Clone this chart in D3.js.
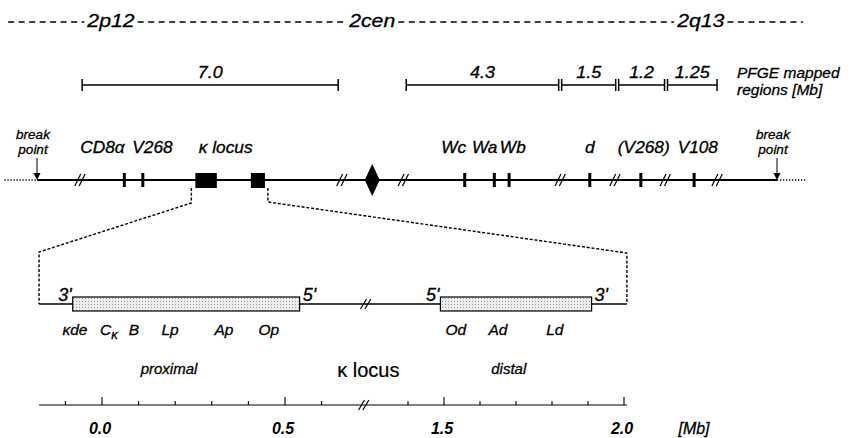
<!DOCTYPE html>
<html><head><meta charset="utf-8">
<script src="https://cdn.jsdelivr.net/npm/d3@7"></script>
<style>
body{margin:0;background:#fff}
text{font-family:"Liberation Sans",Arial,Helvetica,sans-serif;font-style:italic;fill:#000;stroke:#000;stroke-width:0.3px}
</style>
</head><body>
<svg id="c" width="864" height="438"></svg>
<script>
// ---------- data (map units 0 = left break point, 100 = right break point) ----------
const bandNames = ["2p12", "2cen", "2q13"];
const bandPos = [10, 45.3, 89.7];
const pfgeLabels = ["7.0", "4.3", "1.5", "1.2", "1.25"];
const pfgeStart = [6.1, 49.9, 70.9, 78.6, 85.2];
const pfgeEnd = [40.7, 70.5, 78.2, 84.8, 91.9];
const markerTicks = [11.8, 14.3, 57.8, 61.8, 63.8, 74.7, 81.6, 88.8];
const markerLabels = ["CD8α", "V268", "κ locus", "Wc", "Wa", "Wb", "d", "(V268)", "V108"];
const markerLabelPos = [8.85, 15.6, 25.5, 56.3, 60.5, 64.3, 74.7, 82.0, 89.3];
const kappaBlocks = [[21.4, 24.3], [28.9, 30.8]];
const centromere = 45.3;
const chromBreaks = [5.8, 41.2, 49.5, 70.7, 78.1, 84.9, 91.9];
const breakPoints = [0, 100];
const dottedExt = [[-4.4, 0], [100, 103.9]];

// ---------- κ locus detail (Mb) ----------
const detailExtent = [-0.172, 2.008];
const detailBreak = [0.715, 1.275];
const regionBoxes = [[-0.08, 0.54], [1.49, 1.91]];
const regionEnds = [["3'", "5'"], ["5'", "3'"]];
const geneNames = ["κde", "Cκ", "B", "Lp", "Ap", "Op", "Od", "Ad", "Ld"];
const geneMb = [-0.074, 0.019, 0.087, 0.186, 0.333, 0.456, 1.533, 1.65, 1.808];
const regionNames = ["proximal", "distal"];
const regionNameMb = [0.183, 1.68];
const axisTicks = [-0.1, 0, 0.1, 0.2, 0.3, 0.4, 0.5, 0.6, 1.4, 1.5, 1.6, 1.7, 1.8, 1.9, 2.0];
const axisMajor = [0, 0.5, 1.5, 2.0];
const axisLabels = ["0.0", "0.5", "1.5", "2.0"];

// ---------- scales ----------
const svg = d3.select("#c");
const pos = d3.scaleLinear().domain([0, 100]).range([37, 777]);
const xL = d3.scaleLinear().domain([0, 0.5]).range([102, 285]);
const xR = d3.scaleLinear().domain([1.5, 2.0]).range([444, 624]);
const xMb = v => v < 1 ? xL(v) : xR(v);

const Y = {band: 22, pfge: 85, chrom: 180, detail: 304, axis: 405};
const stretch = (c, s) => `translate(${c},0) scale(${s},1) translate(${-c},0)`;

// ---------- band line ----------
const bandG = svg.append("g");
const bandTexts = bandG.selectAll("text").data(bandNames).join("text")
  .attr("x", (d, i) => pos(bandPos[i])).attr("y", Y.band + 5)
  .attr("text-anchor", "middle").attr("font-size", 19)
  .attr("transform", (d, i) => stretch(pos(bandPos[i]), 1.12))
  .text(d => d);
const bb = [];
bandTexts.each(function (d, i) {
  const w = this.getComputedTextLength() * 1.12;
  bb.push([pos(bandPos[i]) - w / 2 - 3, pos(bandPos[i]) + w / 2 + 3]);
});
const segs = [[pos(-3.9), bb[0][0]], [bb[0][1], bb[1][0]], [bb[1][1], bb[2][0]], [bb[2][1], pos(103.5)]];
bandG.selectAll("line").data(segs).join("line")
  .attr("x1", d => d[0]).attr("x2", d => d[1]).attr("y1", Y.band).attr("y2", Y.band)
  .attr("stroke", "#000").attr("stroke-width", 1.3).attr("stroke-dasharray", "6,4.5");

// ---------- PFGE bars ----------
const pf = svg.append("g").selectAll("g").data(pfgeLabels).join("g");
pf.append("line").attr("x1", (d, i) => pos(pfgeStart[i])).attr("x2", (d, i) => pos(pfgeEnd[i]))
  .attr("y1", Y.pfge).attr("y2", Y.pfge).attr("stroke", "#000").attr("stroke-width", 1.6);
[pfgeStart, pfgeEnd].forEach(arr => {
  pf.append("line").attr("x1", (d, i) => pos(arr[i])).attr("x2", (d, i) => pos(arr[i]))
    .attr("y1", Y.pfge - 6).attr("y2", Y.pfge + 6).attr("stroke", "#000").attr("stroke-width", 1.5);
});
pf.append("text").attr("x", (d, i) => pos((pfgeStart[i] + pfgeEnd[i]) / 2)).attr("y", Y.pfge - 7)
  .attr("text-anchor", "middle").attr("font-size", 16)
  .attr("transform", (d, i) => stretch(pos((pfgeStart[i] + pfgeEnd[i]) / 2), 1.12))
  .text(d => d);
const pfT = svg.append("text").attr("x", 737).attr("y", Y.pfge - 7).attr("font-size", 15.5);
pfT.append("tspan").attr("x", 737).text("PFGE mapped");
pfT.append("tspan").attr("x", 737).attr("dy", 17).text("regions [Mb]");

// ---------- chromosome ----------
const ch = svg.append("g");
ch.append("line").attr("x1", pos(0)).attr("x2", pos(100)).attr("y1", Y.chrom).attr("y2", Y.chrom)
  .attr("stroke", "#000").attr("stroke-width", 1.8);
ch.selectAll("line.dot").data(dottedExt).join("line").attr("class", "dot")
  .attr("x1", d => pos(d[0])).attr("x2", d => pos(d[1])).attr("y1", Y.chrom).attr("y2", Y.chrom)
  .attr("stroke", "#000").attr("stroke-width", 1.3).attr("stroke-dasharray", "1.3,1.7");
ch.selectAll("rect.mk").data(markerTicks).join("rect").attr("class", "mk")
  .attr("x", d => pos(d) - 1.5).attr("width", 3).attr("y", Y.chrom - 7).attr("height", 14).attr("fill", "#000");
ch.selectAll("rect.kb").data(kappaBlocks).join("rect").attr("class", "kb")
  .attr("x", d => pos(d[0])).attr("width", d => pos(d[1]) - pos(d[0]))
  .attr("y", Y.chrom - 7).attr("height", 15).attr("fill", "#000");
ch.append("path").attr("d", () => {
  const c = pos(centromere);
  return `M${c - 7.5},${Y.chrom} L${c},${Y.chrom - 16} L${c + 7.5},${Y.chrom} L${c},${Y.chrom + 16} Z`;
}).attr("fill", "#000");
function slashes(g, x, y, h) {
  [-2.2, 2.2].forEach(o => {
    g.append("line").attr("x1", x + o - 3).attr("y1", y + h).attr("x2", x + o + 3).attr("y2", y - h)
      .attr("stroke", "#000").attr("stroke-width", 1.2);
  });
}
chromBreaks.forEach(b => slashes(ch, pos(b), Y.chrom, 6));
breakPoints.forEach(b => {
  const x = pos(b);
  ch.append("line").attr("x1", x).attr("x2", x).attr("y1", Y.chrom - 22).attr("y2", Y.chrom - 6)
    .attr("stroke", "#000").attr("stroke-width", 1);
  ch.append("path").attr("d", `M${x - 3.5},${Y.chrom - 7} L${x + 3.5},${Y.chrom - 7} L${x},${Y.chrom} Z`).attr("fill", "#000");
  ch.append("text").attr("text-anchor", "middle").attr("font-size", 13.5).attr("x", x - 4).attr("y", Y.chrom - 41).text("break");
  ch.append("text").attr("text-anchor", "middle").attr("font-size", 13.5).attr("x", x - 4).attr("y", Y.chrom - 26).text("point");
});
ch.selectAll("text.ml").data(markerLabels).join("text").attr("class", "ml")
  .attr("x", (d, i) => pos(markerLabelPos[i])).attr("y", Y.chrom - 27)
  .attr("text-anchor", "middle").attr("font-size", 16)
  .attr("transform", (d, i) => stretch(pos(markerLabelPos[i]), 1.08))
  .text(d => d);

// ---------- connectors ----------
const conn = svg.append("g").attr("fill", "none").attr("stroke", "#000").attr("stroke-width", 1.4).attr("stroke-dasharray", "3,1.8");
const lx = pos(kappaBlocks[0][0]) - 4, rx = pos(kappaBlocks[1][1]) + 3;
const dl = xMb(detailExtent[0]), dr = xMb(detailExtent[1]);
conn.append("path").attr("d", `M${lx},${Y.chrom + 8} V${Y.chrom + 23} L${dl},${Y.detail - 52} V${Y.detail}`);
conn.append("path").attr("d", `M${rx},${Y.chrom + 8} V${Y.chrom + 22} L${dr},${Y.detail - 51} V${Y.detail}`);

// ---------- detail ----------
const defs = svg.append("defs");
const pat = defs.append("pattern").attr("id", "stip").attr("width", 3).attr("height", 3).attr("patternUnits", "userSpaceOnUse");
pat.append("rect").attr("width", 3).attr("height", 3).attr("fill", "#ececec");
pat.append("rect").attr("x", 1).attr("y", 1).attr("width", 1).attr("height", 1).attr("fill", "#9a9a9a");

const dg = svg.append("g");
dg.append("line").attr("x1", dl).attr("x2", dr).attr("y1", Y.detail).attr("y2", Y.detail)
  .attr("stroke", "#000").attr("stroke-width", 1.6);
slashes(dg, xMb(detailBreak[0]) + 2, Y.detail, 5);
dg.selectAll("rect").data(regionBoxes).join("rect")
  .attr("x", d => xMb(d[0])).attr("width", d => xMb(d[1]) - xMb(d[0]))
  .attr("y", Y.detail - 7).attr("height", 14).attr("fill", "url(#stip)").attr("stroke", "#000").attr("stroke-width", 1.2);
regionBoxes.forEach((d, i) => {
  dg.append("text").attr("x", xMb(d[0]) - 1).attr("y", Y.detail - 3).attr("text-anchor", "end").attr("font-size", 18).text(regionEnds[i][0]);
  dg.append("text").attr("x", xMb(d[1]) + 3).attr("y", Y.detail - 3).attr("text-anchor", "start").attr("font-size", 18).text(regionEnds[i][1]);
});
dg.selectAll("text.g").data(geneNames).join("text").attr("class", "g")
  .attr("x", (d, i) => xMb(geneMb[i])).attr("y", Y.detail + 31)
  .attr("text-anchor", "middle").attr("font-size", 15.5)
  .each(function (d) {
    const t = d3.select(this);
    if (d === "Cκ") {
      t.append("tspan").text("C");
      t.append("tspan").attr("dy", 4).attr("font-size", 13).text("κ");
    } else t.text(d);
  });
dg.selectAll("text.r").data(regionNames).join("text").attr("class", "r")
  .attr("x", (d, i) => xMb(regionNameMb[i])).attr("y", Y.detail + 70)
  .attr("text-anchor", "middle").attr("font-size", 15).text(d => d);
dg.append("text").attr("x", (xMb(detailBreak[0]) + xMb(detailBreak[1])) / 2 + 5).attr("y", Y.detail + 73)
  .attr("text-anchor", "middle").attr("font-size", 20).style("font-style", "normal").style("stroke-width", "0.2px").text("κ locus");

// ---------- axis ----------
const ax = svg.append("g");
ax.append("line").attr("x1", dl).attr("x2", dr).attr("y1", Y.axis).attr("y2", Y.axis)
  .attr("stroke", "#000").attr("stroke-width", 1.2);
ax.selectAll("line.t").data(axisTicks).join("line").attr("class", "t")
  .attr("x1", d => xMb(d)).attr("x2", d => xMb(d)).attr("y1", Y.axis)
  .attr("y2", d => axisMajor.includes(d) ? Y.axis - 8 : Y.axis - 4)
  .attr("stroke", "#000").attr("stroke-width", 1.1);
slashes(ax, xMb(detailBreak[0]), Y.axis, 5);
ax.selectAll("text.l").data(axisLabels).join("text").attr("class", "l")
  .attr("x", (d, i) => xMb(axisMajor[i]) - 2).attr("y", Y.axis + 29)
  .attr("text-anchor", "middle").attr("font-size", 16).attr("font-weight", "bold").style("stroke-width", "0px").text(d => d);
ax.append("text").attr("x", 694).attr("y", Y.axis + 29).attr("text-anchor", "middle").attr("font-size", 16).text("[Mb]");
</script>
</body></html>
